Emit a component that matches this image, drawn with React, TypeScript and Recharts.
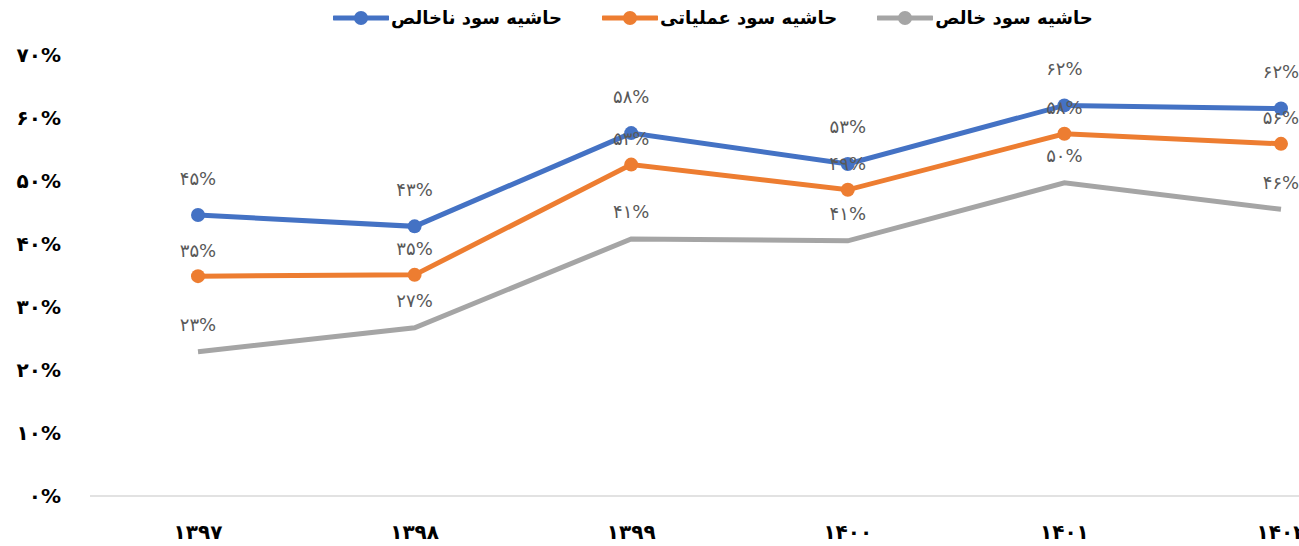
import { LineChart, Line, XAxis, YAxis, LabelList } from "recharts";

const years = ["۱۳۹۷", "۱۳۹۸", "۱۳۹۹", "۱۴۰۰", "۱۴۰۱", "۱۴۰۲"];
const grossMargin = [44.6, 42.8, 57.6, 52.7, 62.0, 61.5];
const operatingMargin = [34.9, 35.1, 52.6, 48.6, 57.5, 55.9];
const netMargin = [22.9, 26.7, 40.8, 40.5, 49.7, 45.5];
const yTicks = [0, 10, 20, 30, 40, 50, 60, 70];

const seriesNames = ["حاشیه سود ناخالص", "حاشیه سود عملیاتی", "حاشیه سود خالص"];
const colors = ["#4472C4", "#ED7D31", "#A5A5A5"];

const data = years.map((year, i) => ({
  year,
  gross: grossMargin[i],
  operating: operatingMargin[i],
  net: netMargin[i],
}));

const FA_DIGITS = "۰۱۲۳۴۵۶۷۸۹";
const toFa = (n: number) =>
  String(n).replace(/\d/g, (d) => FA_DIGITS[Number(d)]);
const pct = (v: number) => toFa(Math.round(v)) + "%";

const FONT = "'DejaVu Sans', sans-serif";

const YTick = (props: any) => {
  const { y, payload } = props;
  return (
    <text x={61} y={y} dy="0.36em" textAnchor="end" fontFamily={FONT} fontWeight="bold" fontSize={20} fill="#000">
      {toFa(payload.value) + "%"}
    </text>
  );
};

const XTick = (props: any) => {
  const { x, payload } = props;
  return (
    <text x={x} y={539} textAnchor="middle" fontFamily={FONT} fontWeight="bold" fontSize={20} fill="#000">
      {payload.value}
    </text>
  );
};

const makeLabel = (offset: number) => (props: any) => {
  const { x, y, value } = props;
  return (
    <text x={x} y={y - offset} dy="0.36em" textAnchor="middle" fontFamily={FONT} fontSize={18} fill="#595959">
      {pct(value)}
    </text>
  );
};

function LegendIcon({ color }: { color: string }) {
  return (
    <svg width={56} height={16} style={{ display: "block" }}>
      <line x1={1} y1={8} x2={55} y2={8} stroke={color} strokeWidth={5} strokeLinecap="round" />
      <circle cx={28} cy={8} r={7} fill={color} />
    </svg>
  );
}

export default function App() {
  return (
    <div style={{ position: "fixed", left: 0, top: 0, width: 1299, height: 546, overflow: "hidden", background: "#fff" }}>
      <div
        style={{
          position: "absolute",
          left: 333,
          top: 7,
          display: "flex",
          gap: 40,
          fontFamily: FONT,
          fontWeight: "bold",
          fontSize: 18,
          color: "#000",
          zIndex: 2,
        }}
      >
        {seriesNames.map((name, i) => (
          <div key={name} style={{ display: "flex", alignItems: "center", gap: 2 }}>
            <LegendIcon color={colors[i]} />
            <span style={{ direction: "rtl" }}>{name}</span>
          </div>
        ))}
      </div>
      <LineChart width={1400} height={546} data={data} margin={{ top: 55, right: 11, left: 0, bottom: 0 }}>
        <XAxis
          dataKey="year"
          height={50}
          stroke="#d9d9d9"
          strokeWidth={1.5}
          tickLine={false}
          padding={{ left: 108, right: 108 }}
          tick={<XTick />}
        />
        <YAxis
          width={90}
          domain={[0, 70]}
          ticks={yTicks}
          axisLine={false}
          tickLine={false}
          tick={<YTick />}
        />
        <Line
          dataKey="net"
          stroke={colors[2]}
          strokeWidth={5}
          dot={false}
          activeDot={false}
          isAnimationActive={false}
        >
          <LabelList dataKey="net" content={makeLabel(27)} />
        </Line>
        <Line
          dataKey="operating"
          stroke={colors[1]}
          strokeWidth={5}
          dot={{ r: 7, fill: colors[1], stroke: colors[1], strokeWidth: 0 }}
          activeDot={false}
          isAnimationActive={false}
        >
          <LabelList dataKey="operating" content={makeLabel(26)} />
        </Line>
        <Line
          dataKey="gross"
          stroke={colors[0]}
          strokeWidth={5}
          dot={{ r: 7, fill: colors[0], stroke: colors[0], strokeWidth: 0 }}
          activeDot={false}
          isAnimationActive={false}
        >
          <LabelList dataKey="gross" content={makeLabel(37)} />
        </Line>
      </LineChart>
    </div>
  );
}
